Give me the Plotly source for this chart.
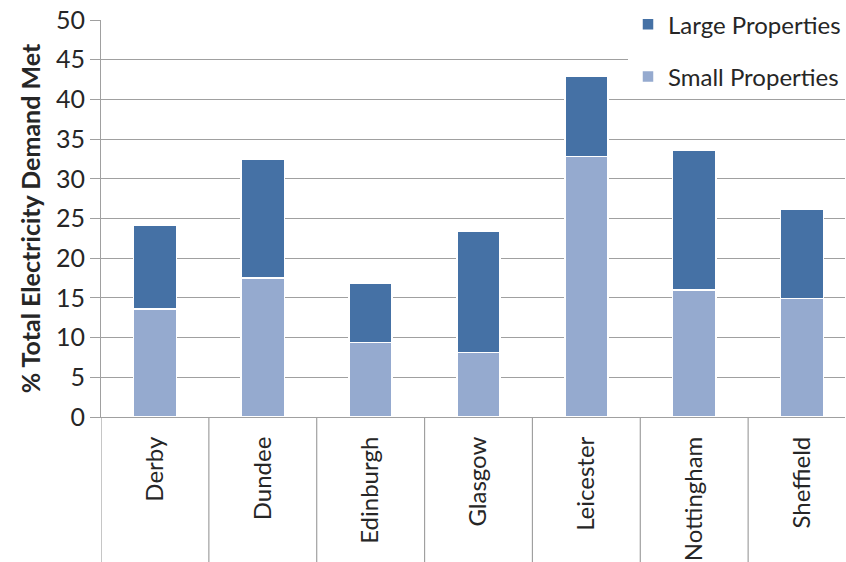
import plotly.graph_objects as go

cities = ["Derby", "Dundee", "Edinburgh", "Glasgow", "Leicester", "Nottingham", "Sheffield"]
small_props = [13.6, 17.5, 9.4, 8.1, 32.8, 16.0, 14.9]
large_props = [10.5, 15.0, 7.5, 15.3, 10.1, 17.6, 11.3]
y_ticks = [0, 5, 10, 15, 20, 25, 30, 35, 40, 45, 50]

FONT = "Lato"
TXT = "#262626"
GRID = "#A0A0A0"

fig = go.Figure()
fig.add_trace(go.Bar(
    x=cities, y=small_props, name="Small Properties", legendgroup="s", legendrank=2,
    marker=dict(color="#95AACF", line=dict(color="white", width=1.5)),
    width=0.40,
))
fig.add_trace(go.Bar(
    x=cities, y=large_props, name="Large Properties", legendgroup="l", legendrank=1,
    marker=dict(color="#4571A5", line=dict(color="white", width=1.5)),
    width=0.40,
))

# category divider lines extending through label area
for i in range(len(cities) + 1):
    fig.add_shape(type="line", xref="x", yref="paper",
                  x0=i - 0.5, x1=i - 0.5, y0=0, y1=-0.37,
                  line=dict(color=GRID, width=1.2), layer="above")

fig.update_layout(
    width=846, height=562,
    margin=dict(l=101, r=0, t=20, b=145),
    barmode="stack",
    plot_bgcolor="white", paper_bgcolor="white",
    font=dict(family=FONT, color=TXT, size=24),
    showlegend=True,
    legend=dict(
        traceorder="grouped",
        x=0.708, y=1.045, xanchor="left", yanchor="top",
        bgcolor="white", tracegroupgap=18,
        font=dict(family=FONT, size=24, color=TXT),
        itemwidth=30,
    ),
    xaxis=dict(
        range=[-0.5, 6.398],
        tickangle=-90, ticks="", showline=True, linecolor=GRID, linewidth=1.2,
        showgrid=False, tickfont=dict(family=FONT, size=24, color=TXT),
        ticklabelstandoff=9,
    ),
    yaxis=dict(
        range=[0, 50], tickvals=y_ticks, ticks="outside", ticklen=10,
        tickcolor=GRID, tickwidth=1.2,
        showline=True, linecolor=GRID, linewidth=1.2,
        showgrid=True, gridcolor=GRID, gridwidth=1.2,
        tickfont=dict(family=FONT, size=25, color=TXT),
        title=dict(text="<b>% Total Electricity Demand Met</b>",
                   font=dict(family=FONT, size=25, color=TXT), standoff=8),
        zeroline=False,
    ),
)

fig.write_html("out.html")
